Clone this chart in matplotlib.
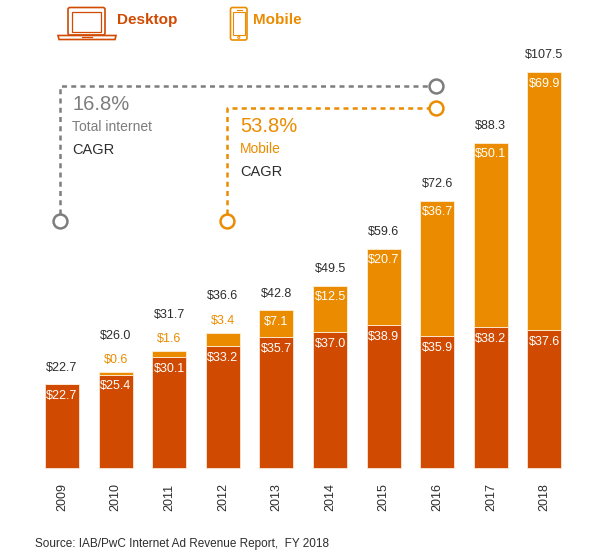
import matplotlib.pyplot as plt
from matplotlib.patches import FancyBboxPatch, Rectangle, Polygon, Circle
from matplotlib.lines import Line2D

plt.rcParams['font.family'] = ['Liberation Sans', 'DejaVu Sans']

years = ['2009', '2010', '2011', '2012', '2013', '2014', '2015', '2016', '2017', '2018']
desktop = [22.7, 25.4, 30.1, 33.2, 35.7, 37.0, 38.9, 35.9, 38.2, 37.6]
mobile = [0.0, 0.6, 1.6, 3.4, 7.1, 12.5, 20.7, 36.7, 50.1, 69.9]
total = [22.7, 26.0, 31.7, 36.6, 42.8, 49.5, 59.6, 72.6, 88.3, 107.5]

c_desk = '#D04A02'
c_mob = '#EB8C00'
c_gray = '#7d7d7d'
c_text = '#2d2d2d'

fig = plt.figure(figsize=(5.96, 5.52), dpi=100)
ax = fig.add_axes([0, 0, 1, 1])
ax.set_xlim(-1.1565, 9.961)
ax.set_ylim(-22.83, 127.17)
ax.axis('off')

x = range(len(years))
w = 0.634
ax.bar(x, desktop, width=w, color=c_desk, edgecolor='#fbe6d8', linewidth=0.6)
ax.bar(x, mobile, width=w, bottom=desktop, color=c_mob, edgecolor='#fdeed8', linewidth=0.6)

for i in x:
    top = desktop[i] + mobile[i]
    ax.annotate(f'${desktop[i]:.1f}', (i, desktop[i]), xytext=(0, -8.6), textcoords='offset points',
                ha='center', va='center', color='white', fontsize=9)
    if mobile[i] == 0:
        ax.annotate(f'${total[i]:.1f}', (i, top), xytext=(0, 11.5), textcoords='offset points',
                    ha='center', va='center', color=c_text, fontsize=9)
    elif mobile[i] < 5:
        ax.annotate(f'${mobile[i]:.1f}', (i, top), xytext=(0, 8.6), textcoords='offset points',
                    ha='center', va='center', color=c_mob, fontsize=9)
        ax.annotate(f'${total[i]:.1f}', (i, top), xytext=(0, 26.5), textcoords='offset points',
                    ha='center', va='center', color=c_text, fontsize=9)
    else:
        ax.annotate(f'${mobile[i]:.1f}', (i, top), xytext=(0, -8.2), textcoords='offset points',
                    ha='center', va='center', color='white', fontsize=9)
        ax.annotate(f'${total[i]:.1f}', (i, top), xytext=(0, 12.2), textcoords='offset points',
                    ha='center', va='center', color=c_text, fontsize=9)
    ax.text(i, -7.9, years[i], rotation=90, ha='center', va='center', color=c_text, fontsize=9)

# overlay in pixel coordinates for decorations
ov = fig.add_axes([0, 0, 1, 1])
ov.set_xlim(0, 596)
ov.set_ylim(552, 0)
ov.axis('off')
ov.patch.set_alpha(0)

dash = (0, (2.0, 1.7))
ov.add_line(Line2D([60, 60, 429], [214, 86, 86], color=c_gray, lw=1.8, linestyle=dash))
ov.add_line(Line2D([227, 227, 429], [214, 108, 108], color=c_mob, lw=1.8, linestyle=dash))
for cx, cy, col in [(60, 221, c_gray), (436, 86, c_gray), (227, 221, c_mob), (436, 108, c_mob)]:
    ov.plot(cx, cy, 'o', ms=10, mfc='white', mec=col, mew=1.8)

ov.text(72, 104, '16.8%', color=c_gray, fontsize=14.5, va='center')
ov.text(72, 127, 'Total internet', color=c_gray, fontsize=10, va='center')
ov.text(72, 150, 'CAGR', color=c_text, fontsize=10.5, va='center')
ov.text(240, 127, '53.8%', color=c_mob, fontsize=14.5, va='center')
ov.text(240, 149, 'Mobile', color=c_mob, fontsize=10, va='center')
ov.text(240, 172, 'CAGR', color=c_text, fontsize=10.5, va='center')

# legend icons
ov.add_patch(FancyBboxPatch((68, 7.5), 37, 27.5, boxstyle='round,pad=0,rounding_size=2',
                            fill=False, ec=c_desk, lw=1.2))
ov.add_patch(Rectangle((72, 11.5), 29, 20.5, fill=False, ec=c_desk, lw=0.9))
ov.add_patch(Polygon([(58, 35.5), (116, 35.5), (115, 39.5), (59, 39.5)], closed=True,
                     fill=False, ec=c_desk, lw=1.2))
ov.add_line(Line2D([82, 92], [37, 37], color=c_desk, lw=0.9))
ov.text(117, 20, 'Desktop', color=c_desk, fontsize=11, fontweight='bold', va='center')

ov.add_patch(FancyBboxPatch((230.5, 7.5), 16.5, 32.5, boxstyle='round,pad=0,rounding_size=2',
                            fill=False, ec=c_mob, lw=1.2))
ov.add_patch(Rectangle((232.8, 12), 12, 22.5, fill=False, ec=c_mob, lw=0.8))
ov.add_line(Line2D([236.5, 241.5], [9.8, 9.8], color=c_mob, lw=0.8))
ov.add_patch(Circle((238.8, 37.3), 1.1, fill=False, ec=c_mob, lw=0.7))
ov.text(253, 20, 'Mobile', color=c_mob, fontsize=11, fontweight='bold', va='center')

ov.text(35, 544, 'Source: IAB/PwC Internet Ad Revenue Report,  FY 2018', color=c_text,
        fontsize=8.5, va='center')

fig.savefig('out.png', dpi=100)
